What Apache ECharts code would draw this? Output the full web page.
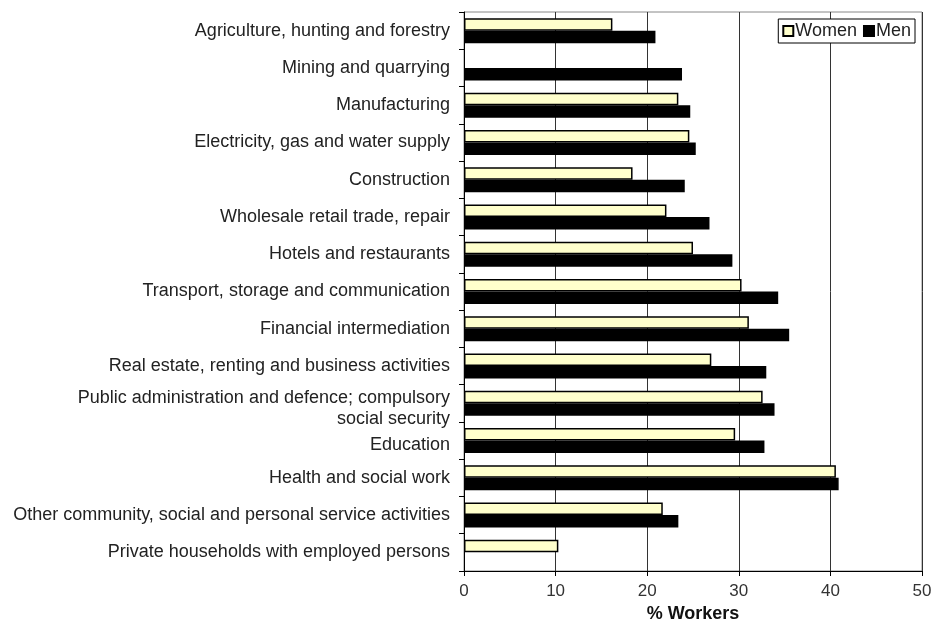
<!DOCTYPE html>
<html>
<head>
<meta charset="utf-8">
<script src="https://cdn.jsdelivr.net/npm/echarts@6/dist/echarts.min.js"></script>
<style>
  html, body { margin: 0; padding: 0; background: #fff; }
  #chart { width: 931px; height: 623px; }
</style>
</head>
<body>
<div id="chart"></div>
<script>
const categories = [
  'Agriculture, hunting and forestry',
  'Mining and quarrying',
  'Manufacturing',
  'Electricity, gas and water supply',
  'Construction',
  'Wholesale retail trade, repair',
  'Hotels and restaurants',
  'Transport, storage and communication',
  'Financial intermediation',
  'Real estate, renting and business activities',
  'Public administration and defence; compulsory\nsocial security',
  'Education',
  'Health and social work',
  'Other community, social and personal service activities',
  'Private households with employed persons'
]
const women = [16.2, null, 23.4, 24.6, 18.4, 22.1, 25.0, 30.3, 31.1, 27.0, 32.6, 29.6, 40.6, 21.7, 10.3]
const men = [20.9, 23.8, 24.7, 25.3, 24.1, 26.8, 29.3, 34.3, 35.5, 33.0, 33.9, 32.8, 40.9, 23.4, null]
const xTicks = [0, 10, 20, 30, 40, 50]

const font = 'Liberation Sans, Arial, sans-serif'

// the two-line label and the one under it sit a little lower in the original:
// push them down with an empty spacer line on top
function labelFormatter (value, index) {
  if (index === 10 || index === 11) {
    const sp = index === 10 ? '{sp10| }' : '{sp9| }'
    return sp + '\n' + value.split('\n').map(l => '{n|' + l + '}').join('\n')
  }
  return value
}

const chart = echarts.init(document.getElementById('chart'))
chart.setOption({
  animation: false,
  textStyle: { fontFamily: font },
  legend: {
    data: ['Women', 'Men'],
    right: 16,
    top: 19,
    icon: 'rect',
    itemWidth: 10,
    itemHeight: 10,
    itemGap: 6,
    padding: [3, 4],
    borderColor: '#000',
    borderWidth: 1,
    backgroundColor: '#fff',
    textStyle: { fontSize: 18, color: '#222', fontFamily: font, padding: [0, 0, 0, -3] }
  },
  grid: {
    left: 464,
    right: 9,
    top: 12,
    bottom: 52,
    show: true,
    borderColor: '#888',
    borderWidth: 1,
    containLabel: false,
    outerBoundsMode: 'none'
  },
  xAxis: {
    type: 'value',
    min: xTicks[0],
    max: xTicks[xTicks.length - 1],
    interval: 10,
    name: '% Workers',
    nameLocation: 'middle',
    nameGap: 34,
    nameTextStyle: { fontSize: 18, fontWeight: 'bold', color: '#111', fontFamily: font },
    axisLine: { show: true, lineStyle: { color: '#000', width: 1 } },
    axisTick: { show: true, length: 5, lineStyle: { color: '#000' } },
    axisLabel: { fontSize: 17, color: '#333', margin: 12, fontFamily: font },
    splitLine: { show: true, lineStyle: { color: '#333', width: 1 } }
  },
  yAxis: {
    type: 'category',
    data: categories,
    inverse: true,
    axisLine: { show: true, lineStyle: { color: '#000', width: 1 } },
    axisTick: { show: true, length: 5, interval: 0, lineStyle: { color: '#000' } },
    axisLabel: {
      fontSize: 18,
      color: '#222',
      margin: 14,
      interval: 0,
      lineHeight: 21,
      fontFamily: font,
      formatter: labelFormatter,
      rich: {
        sp10: { fontSize: 4, lineHeight: 10, height: 10 },
        sp9: { fontSize: 4, lineHeight: 9, height: 9 },
        n: { fontSize: 18, color: '#222', lineHeight: 21, fontFamily: font }
      }
    },
    splitLine: { show: false }
  },
  series: [
    {
      name: 'Women',
      type: 'bar',
      data: women,
      barWidth: 12.5,
      barGap: '0%',
      itemStyle: { color: '#ffffcc', borderColor: '#000', borderWidth: 1.5 }
    },
    {
      name: 'Men',
      type: 'bar',
      data: men,
      barWidth: 12.5,
      itemStyle: { color: '#000', borderColor: '#000', borderWidth: 1.5 }
    }
  ]
})
</script>
</body>
</html>
